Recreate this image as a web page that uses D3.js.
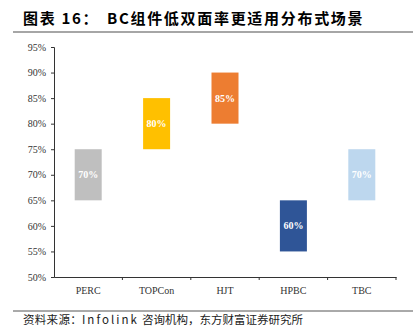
<!DOCTYPE html>
<html><head><meta charset="utf-8">
<script src="https://cdn.jsdelivr.net/npm/d3@7"></script>
<style>body{margin:0;background:#fff}svg{display:block}</style>
</head><body>
<svg id="c" width="420" height="336"></svg>
<script>
const categories = ["PERC","TOPCon","HJT","HPBC","TBC"];
const lowValues = [0.65,0.75,0.80,0.55,0.65];
const highValues = [0.75,0.85,0.90,0.65,0.75];
const labels = ["70%","80%","85%","60%","70%"];
const colors = ["#BFBFBF","#FFC000","#ED7D31","#2F5597","#BDD7EE"];
const yTicks = [0.50,0.55,0.60,0.65,0.70,0.75,0.80,0.85,0.90,0.95];

(function(){
const svg = d3.select("#c");
const cjk = "'Noto Sans CJK SC', sans-serif";
const serif = "'Liberation Serif','Times New Roman',serif";

svg.append("text").attr("x",23).attr("y",24).attr("font-family",cjk).attr("font-weight","bold")
  .attr("font-size",15).attr("letter-spacing",1.7).attr("fill","#000").text("图表 16：");
svg.append("text").attr("x",107).attr("y",24).attr("font-family",cjk).attr("font-weight","bold")
  .attr("font-size",15).attr("letter-spacing",1.7).attr("fill","#000").text("BC组件低双面率更适用分布式场景");
svg.append("line").attr("x1",13).attr("x2",413).attr("y1",32).attr("y2",32).attr("stroke","#A6A6A6").attr("stroke-width",2);

const pl=54, pr=396, pt=47, pb=277;
const x = d3.scaleBand().domain(categories).range([pl,pr]).paddingInner(0).paddingOuter(0);
const y = d3.scaleLinear().domain([0.5,0.95]).range([pb,pt]);

const ya = svg.append("g").attr("transform",`translate(${pl},0)`)
  .call(d3.axisLeft(y).tickValues(yTicks).tickFormat(d3.format(".0%")).tickSize(3).tickPadding(5));
ya.selectAll("text").attr("font-family",serif).attr("font-size",10).attr("fill","#333");
ya.select(".domain").attr("stroke","#333");
ya.selectAll(".tick line").attr("stroke","#333");

const xa = svg.append("g").attr("transform",`translate(0,${pb})`)
  .call(d3.axisBottom(x).tickSize(0).tickPadding(10));
xa.selectAll("text").attr("font-family",serif).attr("font-size",10).attr("fill","#333");
xa.select(".domain").attr("stroke","#333");
const bounds = categories.map(c=>x(c)+x.bandwidth());
xa.selectAll(".bt").data(bounds).enter().append("line").attr("x1",d=>d).attr("x2",d=>d)
  .attr("y1",0).attr("y2",3).attr("stroke","#333");

const bw = 27;
const bars = svg.append("g");
categories.forEach((c,i)=>{
  const cx = x(c)+x.bandwidth()/2;
  bars.append("rect").attr("x",cx-bw/2).attr("width",bw)
    .attr("y",y(highValues[i])).attr("height",y(lowValues[i])-y(highValues[i]))
    .attr("fill",colors[i]);
  bars.append("text").attr("x",cx).attr("y",(y(highValues[i])+y(lowValues[i]))/2+3.5)
    .attr("text-anchor","middle").attr("font-family",serif).attr("font-weight","bold")
    .attr("font-size",10).attr("fill","#fff").text(labels[i]);
});

svg.append("line").attr("x1",13).attr("x2",413).attr("y1",311).attr("y2",311).attr("stroke","#555").attr("stroke-width",1);
const src = (xx,t,ls)=>svg.append("text").attr("x",xx).attr("y",324).attr("font-family",cjk).attr("font-size",11.5)
  .attr("letter-spacing",ls).attr("fill","#222").text(t);
src(23,"资料来源：",0.3);
src(82,"Infolink",2);
src(142,"咨询机构，东方财富证券研究所",0);
})();
</script>
</body></html>
